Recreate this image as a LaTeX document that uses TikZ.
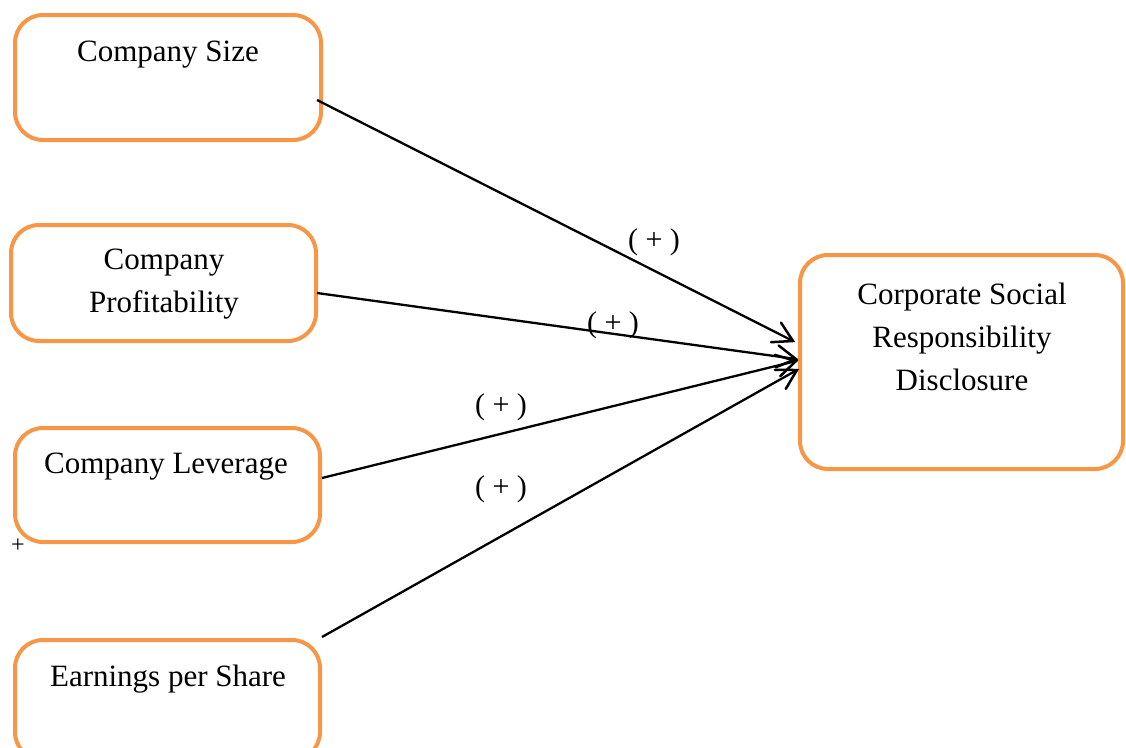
\documentclass[tikz,border=0pt]{standalone}
\usepackage{fontspec}
\setmainfont{Liberation Serif}
\usetikzlibrary{calc,decorations.markings}
\definecolor{boxorange}{HTML}{F79646}
\tikzset{
  varbox/.style={draw=boxorange, line width=4pt, rounded corners=28pt,
    rectangle, outer sep=0pt, inner sep=0pt},
  boxtext/.style={anchor=base, align=center, inner sep=0pt,
    font=\fontsize{31}{43}\selectfont},
  sign/.style={inner sep=0pt, font=\fontsize{30}{36}\selectfont},
  % open V-shaped head drawn at the end of the path
  link/.style={line width=2.3pt,
    postaction={decorate},
    decoration={markings, mark=at position 1 with {
      \draw[line width=2.5pt, line cap=round, line join=miter]
        (-19pt,11pt) -- (0pt,0pt) -- (-19pt,-11pt);}}}
}
\begin{document}
\begin{tikzpicture}[x=1pt,y=1pt]
  \useasboundingbox (0,-747) rectangle (1126,0);
  \begin{scope}
    \clip (0,-747) rectangle (1126,0);
    % independent variables
    \node[varbox, minimum width=306pt, minimum height=125pt] (size) at (168,-77.5) {};
    \node[varbox, minimum width=305pt, minimum height=116pt] (prof) at (163.5,-283) {};
    \node[varbox, minimum width=305pt, minimum height=114pt] (lev) at (167.5,-485) {};
    \node[varbox, minimum width=305pt, minimum height=120pt] (eps) at (167.5,-700) {};
    % dependent variable
    \node[varbox, minimum width=323pt, minimum height=214pt] (csr) at (961.5,-362) {};
  \end{scope}

  \node[boxtext] (tsize) at (168,-61) {Company Size};
  \node[boxtext] (tprof) at (164,-312) {Company\\Profitability};
  \node[boxtext] (tlev) at (166,-473) {Company Leverage};
  \node[boxtext] (teps) at (168,-686) {Earnings per Share};
  \node[boxtext] (tcsr) at (962,-390) {Corporate Social\\Responsibility\\Disclosure};

  \node[inner sep=0pt, font=\fontsize{24}{26}\selectfont] (plus) at (18,-546) {+};

  % hypothesised relations
  \draw[link] ($(size.east)+(-4,-22.5)$) -- ($(csr.west)+(-7,21)$);
  \draw[link] ($(prof.east)+(1,-10)$) -- ($(csr.west)+(-4,3)$);
  \draw[link] ($(lev.east)+(2,7)$) -- ($(csr.west)+(-4,1)$);
  \draw[link] ($(eps.north east)+(2,3)$) -- ($(csr.west)+(-3,-8)$);

  \node[sign] (h1) at (654,-242) {( + )};
  \node[sign] (h2) at (613,-325) {( + )};
  \node[sign] (h3) at (501,-407) {( + )};
  \node[sign] (h4) at (501,-489) {( + )};
\end{tikzpicture}
\end{document}
